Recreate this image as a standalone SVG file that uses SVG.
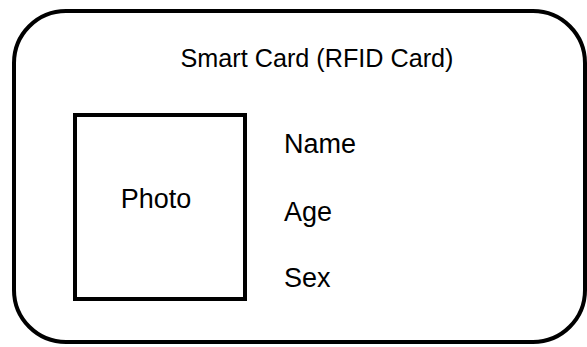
<svg xmlns="http://www.w3.org/2000/svg" width="587" height="347" viewBox="0 0 587 347">
  <style>
    .box { fill: #ffffff; stroke: #000000; stroke-width: 4; }
    .t { font-family: "Liberation Sans", Arial, sans-serif; font-size: 27px; fill: #000000; }
  </style>
  <rect width="587" height="347" fill="#ffffff"/>
  <g id="card">
    <rect class="box" x="14" y="11" width="571" height="331" rx="52" ry="52"/>
    <text class="t" x="317" y="67" text-anchor="middle" style="font-size:25.2px">Smart Card (RFID Card)</text>
  </g>
  <g id="photo">
    <rect class="box" x="75" y="115" width="170" height="184"/>
    <text class="t" x="156" y="208" text-anchor="middle">Photo</text>
  </g>
  <g id="name">
    <text class="t" x="284" y="153">Name</text>
  </g>
  <g id="age">
    <text class="t" x="284" y="221">Age</text>
  </g>
  <g id="sex">
    <text class="t" x="284" y="287">Sex</text>
  </g>
  <g id="connectors"></g>
</svg>
